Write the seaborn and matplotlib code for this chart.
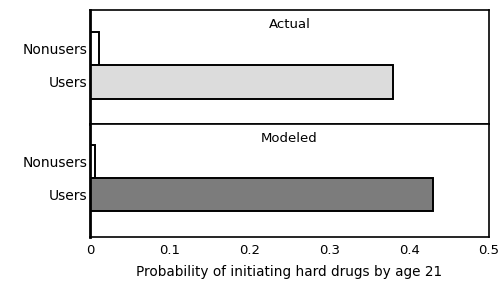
import matplotlib
matplotlib.use("Agg")
import matplotlib.pyplot as plt
import seaborn as sns

# Data
groups = ["Nonusers", "Users"]
actual = [0.012, 0.38]
modeled = [0.006, 0.43]
panel_titles = ["Actual", "Modeled"]
xticks = [0, 0.1, 0.2, 0.3, 0.4, 0.5]
xticklabels = ["0", "0.1", "0.2", "0.3", "0.4", "0.5"]

sns.set_style("white")
plt.rcParams["font.family"] = ["DejaVu Sans"]
plt.rcParams["text.color"] = "black"
plt.rcParams["axes.labelcolor"] = "black"
plt.rcParams["xtick.color"] = "black"
plt.rcParams["ytick.color"] = "black"

fig, axs = plt.subplots(2, 1, figsize=(4.99, 2.90), dpi=100, sharex=True)
fig.subplots_adjust(left=0.18, right=0.98, top=0.965, bottom=0.183, hspace=0)

panels = [(actual, ["white", "#dcdcdc"]), (modeled, ["white", "#7c7c7c"])]
for ax, (vals, cols), title in zip(axs, panels, panel_titles):
    sns.barplot(x=vals, y=groups, hue=groups, palette=cols, legend=False,
                width=1.0, edgecolor="black", linewidth=1.4, ax=ax)
    ax.set_ylim(2.25, -1.15)
    ax.set_ylabel("")
    ax.text(0.5, 0.87, title, transform=ax.transAxes, ha="center", va="center",
            fontsize=9.5)
    ax.tick_params(axis="y", length=0, pad=2, labelsize=10)
    for side in ["top", "right", "bottom"]:
        ax.spines[side].set_linewidth(1.2)
        ax.spines[side].set_color("black")
    ax.spines["left"].set_linewidth(2)
    ax.spines["left"].set_color("black")

axs[1].set_ylim(2.3, -1.15)
axs[1].set_xlim(0, 0.5)
axs[1].set_xticks(xticks)
axs[1].set_xticklabels(xticklabels)
axs[1].tick_params(axis="x", direction="in", length=4, width=1, labelsize=9.5, pad=5)
axs[0].tick_params(axis="x", length=0)
axs[1].set_xlabel("Probability of initiating hard drugs by age 21", fontsize=9.8, labelpad=6)

fig.savefig("out.png", dpi=100)
